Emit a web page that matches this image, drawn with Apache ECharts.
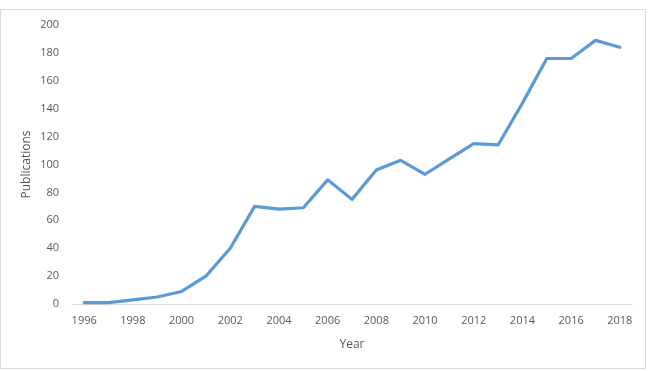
<!DOCTYPE html>
<html>
<head>
<meta charset="utf-8">
<script src="https://cdn.jsdelivr.net/npm/echarts@6/dist/echarts.min.js"></script>
<style>
  html, body { margin: 0; padding: 0; background: #fff; }
  #chart { width: 648px; height: 371px; }
</style>
</head>
<body>
<div id="chart"></div>
<script>
// 数据
const years = ["1996", "1997", "1998", "1999", "2000", "2001", "2002", "2003", "2004", "2005", "2006", "2007",
  "2008", "2009", "2010", "2011", "2012", "2013", "2014", "2015", "2016", "2017", "2018"]
const publications = [1, 1, 3, 5, 9, 20, 40, 70, 68, 69, 89, 75, 96, 103, 93, 104, 115, 114, 144, 176, 176, 189, 184]

const myChart = echarts.init(document.getElementById("chart"))

const labelFont = "'Open Sans', 'Liberation Sans', sans-serif"

const option = {
  backgroundColor: "#fff",
  animation: false,
  graphic: [
    {
      type: "rect",
      shape: { x: 0.5, y: 9.5, width: 645, height: 359 },
      style: { fill: "none", stroke: "#d9d9d9", lineWidth: 1 },
      silent: true
    }
  ],
  grid: {
    left: 72,
    right: 16,
    top: 25,
    bottom: 67
  },
  xAxis: {
    type: "category",
    data: years,
    boundaryGap: true,
    name: "Year",
    nameLocation: "middle",
    nameGap: 35,
    nameMoveOverlap: false,
    nameTextStyle: { color: "#595959", fontSize: 12, fontFamily: labelFont },
    axisLine: { show: true, lineStyle: { color: "#d9d9d9", width: 1 } },
    axisTick: { show: false },
    axisLabel: {
      interval: 1,
      color: "#595959",
      fontSize: 11,
      fontFamily: labelFont,
      margin: 11
    }
  },
  yAxis: {
    type: "value",
    min: 0,
    max: 200,
    interval: 20,
    name: "Publications",
    nameLocation: "middle",
    nameGap: 39,
    nameRotate: 90,
    nameMoveOverlap: false,
    nameTextStyle: { color: "#595959", fontSize: 12, fontFamily: labelFont },
    axisLine: { show: false },
    axisTick: { show: false },
    splitLine: { show: false },
    axisLabel: {
      color: "#595959",
      fontSize: 11,
      fontFamily: labelFont,
      margin: 13
    }
  },
  series: [
    {
      name: "Publications",
      type: "line",
      data: publications,
      symbol: "none",
      lineStyle: { color: "#5b9bd5", width: 3.2, join: "round", cap: "round" },
      itemStyle: { color: "#5b9bd5" }
    }
  ]
}

myChart.setOption(option)
</script>
</body>
</html>
